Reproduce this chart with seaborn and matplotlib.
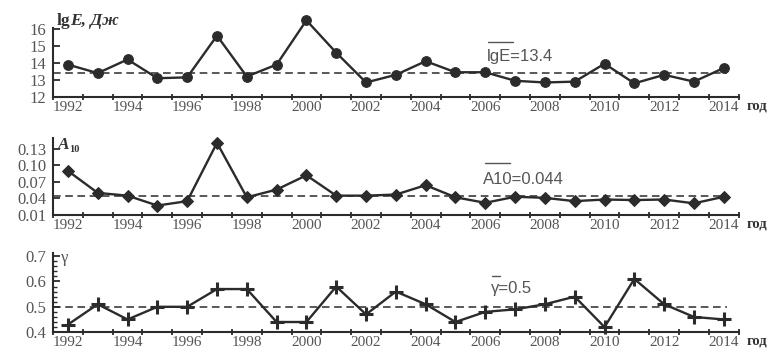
import matplotlib
matplotlib.use("Agg")
import matplotlib.pyplot as plt
import matplotlib.transforms as mtransforms
import numpy as np
import pandas as pd
import seaborn as sns

years = list(range(1992, 2015))
lg_e = [13.9, 13.4, 14.2, 13.1, 13.15, 15.6, 13.2, 13.9, 16.5, 14.6, 12.85, 13.3,
        14.1, 13.45, 13.45, 12.95, 12.85, 12.9, 13.95, 12.8, 13.3, 12.9, 13.7]
a10 = [0.090, 0.050, 0.045, 0.027, 0.035, 0.141, 0.042, 0.056, 0.082, 0.045, 0.045, 0.047,
       0.064, 0.042, 0.032, 0.043, 0.041, 0.035, 0.038, 0.037, 0.038, 0.031, 0.043]
gamma = [0.43, 0.51, 0.45, 0.50, 0.50, 0.57, 0.57, 0.44, 0.44, 0.58, 0.47, 0.56,
         0.51, 0.44, 0.48, 0.49, 0.51, 0.54, 0.42, 0.61, 0.51, 0.46, 0.45]
means = [13.4, 0.044, 0.5]
mean_labels = ["lgE=13.4", "A10=0.044", "\u03b3=0.5"]

df = pd.DataFrame({"year": years, "lgE": lg_e, "A10": a10, "gamma": gamma})

sns.set_theme(style="white")
plt.rcParams["font.family"] = ["Liberation Serif", "DejaVu Serif"]

W, H = 773, 350
fig = plt.figure(figsize=(W / 100, H / 100), dpi=100)
boxes = [[0.0686, 0.723, 0.887, 0.197],
         [0.0686, 0.386, 0.887, 0.220],
         [0.0686, 0.051, 0.887, 0.226]]
ylims = [(12, 16.05), (0.01, 0.15), (0.4, 0.712)]
yticks = [[12, 13, 14, 15, 16], [0.01, 0.04, 0.07, 0.10, 0.13], [0.4, 0.5, 0.6, 0.7]]
yfmt = ["{:.0f}", "{:.2f}", "{:.1f}"]
cols = ["lgE", "A10", "gamma"]
markers = ["o", "D", "P"]
msizes = [7, 6, 0]
line_c = "#2b2b2b"
text_c = "#555555"

for i, box in enumerate(boxes):
    ax = fig.add_axes(box)
    if cols[i] == "gamma":
        sns.lineplot(data=df, x="year", y=cols[i], ax=ax, color=line_c, lw=1.7)
        ax.plot(df["year"], df[cols[i]], ls="none", marker="+", ms=10, mew=2.2,
                color=line_c, clip_on=False)
    else:
        sns.lineplot(data=df, x="year", y=cols[i], ax=ax, color=line_c, lw=1.7,
                     marker=markers[i], markersize=msizes[i], markeredgecolor=line_c,
                     clip_on=False)
    ax.hlines(means[i], 1991.5, 2014.1, colors=line_c, linestyles=(0, (5, 3)), lw=1.1)
    ax.set_xlim(1991.5, 2014.5)
    ax.set_ylim(*ylims[i])
    ax.set_xlabel("")
    ax.set_ylabel("")
    for s in ["top", "right"]:
        ax.spines[s].set_visible(False)
    for s in ["left", "bottom"]:
        ax.spines[s].set_color(line_c)
        ax.spines[s].set_linewidth(1.5)
    ax.set_xticks(years[::2])
    ax.set_xticks(np.arange(1991.5, 2015, 1), minor=True)
    ax.set_yticks(yticks[i])
    ax.set_yticklabels([yfmt[i].format(v) for v in yticks[i]])
    if i == 2:
        ax.set_yticks(np.arange(0.4, 0.71, 0.02), minor=True)
    ax.tick_params(axis="x", which="major", length=0, labelsize=11, labelcolor=text_c, pad=3)
    ax.tick_params(axis="x", which="minor", length=5, width=1.3, direction="inout",
                   color=line_c, bottom=True)
    ax.tick_params(axis="y", which="major", length=5, width=1.3, direction="in",
                   color=line_c, labelsize=12, labelcolor=text_c, pad=5, left=True)
    ax.tick_params(axis="y", which="minor", length=3, width=1.0, direction="in",
                   color=line_c, left=True)
    tr = mtransforms.offset_copy(ax.transAxes, fig=fig, x=6, y=-2, units="points")
    ax.text(1.0, 0.0, "год", transform=tr, ha="left", va="top",
            fontsize=10.5, fontweight="bold", color="#333333")

# mean annotations with overlines (pixel positions)
for lab, (x0, yc) in zip(mean_labels, [(487, 57), (483, 179), (491, 288)]):
    fig.text(x0 / W, 1 - yc / H, lab, fontsize=12, color=text_c,
             family=["Liberation Sans", "DejaVu Sans"], ha="left", va="center")
for y_pix, x0, x1 in [(42, 488, 513), (163, 485, 510), (276, 492, 500)]:
    fig.add_artist(plt.Line2D([x0 / W, x1 / W], [1 - y_pix / H] * 2,
                              color=text_c, lw=1.0))

# panel labels
fig.text(57 / W, 1 - 21 / H, "lg", fontsize=12.5, fontweight="bold", color="#333333",
         va="center")
fig.text(70 / W, 1 - 21 / H, "E, Дж", fontsize=12.5, fontweight="bold", style="italic",
         color="#333333", va="center")
fig.text(58 / W, 1 - 145 / H, "A", fontsize=12.5, fontweight="bold", style="italic",
         color="#333333", va="center")
fig.text(69 / W, 1 - 149 / H, "10", fontsize=7.5, fontweight="bold",
         color="#333333", va="center")
fig.text(61 / W, 1 - 258 / H, "\u03b3", fontsize=12, color=text_c, va="center")

fig.savefig("out.png", dpi=100)
